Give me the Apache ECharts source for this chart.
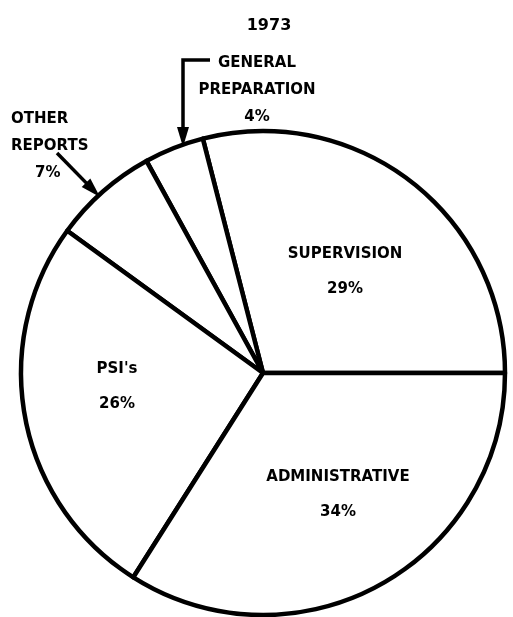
<!DOCTYPE html>
<html>
<head>
<meta charset="utf-8">
<script src="https://cdn.jsdelivr.net/npm/echarts@6/dist/echarts.min.js"></script>
<style>
  html, body { margin: 0; padding: 0; background: #fff; }
  #time-pie { width: 513px; height: 617px; }
</style>
</head>
<body>
<div id="time-pie"></div>
<script>
// data
var yearLabel = '1973'
var categories = ['SUPERVISION', 'GENERAL\nPREPARATION', 'OTHER\nREPORTS', "PSI's", 'ADMINISTRATIVE']
var percents = [29, 4, 7, 26, 34]

// label anchor points (layout only)
var labelPos = [[345, 272], [257, 90], [11, 146], [117, 387], [338, 495]]
var bigSlice = [true, false, false, true, true]

var chart = echarts.init(document.getElementById('time-pie'))
var font = 'DejaVu Sans'

// arrow helper: line from tail to tip with a filled head
function arrow(points) {
  var tip = points[points.length - 1]
  var prev = points[points.length - 2]
  var dx = tip[0] - prev[0], dy = tip[1] - prev[1]
  var len = Math.sqrt(dx * dx + dy * dy)
  var ux = dx / len, uy = dy / len
  var hl = 20, hw = 6
  var bx = tip[0] - ux * hl, by = tip[1] - uy * hl
  return [
    {
      type: 'polyline',
      shape: { points: points.slice(0, -1).concat([[bx + ux * 2, by + uy * 2]]) },
      style: { stroke: '#000', lineWidth: 3.5, fill: null }
    },
    {
      type: 'polygon',
      shape: { points: [tip, [bx - uy * hw, by + ux * hw], [bx + uy * hw, by - ux * hw]] },
      style: { fill: '#000' }
    }
  ]
}

var option = {
  animation: false,
  backgroundColor: '#fff',
  title: {
    text: yearLabel,
    left: 264,
    top: 13,
    textAlign: 'center',
    textStyle: { fontFamily: font, fontWeight: 'bold', fontSize: 16, color: '#000' }
  },
  graphic: arrow([[210, 60], [183, 60], [183, 147]]).concat(arrow([[57, 153], [100, 197]])),
  series: [{
    type: 'pie',
    center: [263, 373],
    radius: 242,
    startAngle: 0,
    clockwise: false,
    silent: true,
    data: categories.map(function (name, i) {
      return { name: name, value: percents[i] }
    }),
    itemStyle: { color: '#fff', borderColor: '#000', borderWidth: 4.5 },
    labelLine: { show: false },
    label: {
      show: true,
      position: 'inside',
      color: '#000',
      fontFamily: font,
      fontWeight: 'bold',
      fontSize: 15,
      formatter: function (p) {
        if (p.dataIndex === 2) return p.name + '\n{pad|' + p.value + '%}'
        return p.name + (bigSlice[p.dataIndex] ? '\n\n' : '\n') + p.value + '%'
      },
      rich: {
        pad: { fontFamily: font, fontWeight: 'bold', fontSize: 15, color: '#000', padding: [0, 0, 0, 24] }
      }
    },
    labelLayout: function (p) {
      var pos = labelPos[p.dataIndex]
      return {
        x: pos[0],
        y: pos[1],
        align: p.dataIndex === 2 ? 'left' : 'center',
        verticalAlign: 'middle'
      }
    }
  }]
}

// line heights differ between the in-slice and outside labels
option.series[0].data.forEach(function (d, i) {
  d.label = { lineHeight: bigSlice[i] ? 17.5 : 27 }
})

chart.setOption(option)
</script>
</body>
</html>
